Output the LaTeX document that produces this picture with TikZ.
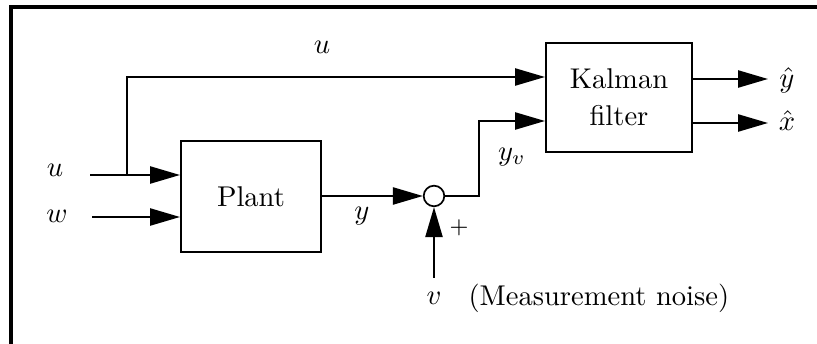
\documentclass[tikz,border=0pt]{standalone}
\usetikzlibrary{arrows.meta}
\begin{document}
\begin{tikzpicture}[
  x=0.35pt, y=-0.35pt,
  block/.style={draw, rectangle, line width=0.7pt, inner sep=0pt},
  sumnode/.style={draw, circle, minimum size=7.2pt, inner sep=0pt, line width=0.6pt},
  sig/.style={-{Triangle[length=10.5pt,width=6pt]}, line width=0.7pt},
  lbl/.style={inner sep=0pt}
]
\useasboundingbox (0,0) rectangle (817,344);

% Frame (open at right and bottom)
\draw[line width=1.2pt] (11,344) -- (11,7) -- (817,7);

% Blocks
\node[block, minimum width=49pt, minimum height=38.85pt] (plant) at (251,196.5) {Plant};
\node[block, minimum width=51.1pt, minimum height=38.15pt, align=center] (kalman) at (619,97.5) {Kalman\\[1pt]filter};
\node[sumnode] (sum) at (434,196) {};

% Input and branch points
\coordinate (uin) at (90,175);
\coordinate (win) at (92,217);
\coordinate (ubr) at (127,175);
\coordinate (utop) at (127,77);
\coordinate (yvjog) at (479,121);
\coordinate (vin) at (434,278);
\coordinate (yhatout) at (768,79);
\coordinate (xhatout) at (768,123);

% Labels
\node[lbl] (ulbl) at (55,170) {$u$};
\node[lbl] (wlbl) at (57,216) {$w$};
\node[lbl] (utoplbl) at (322,47) {$u$};
\node[lbl] (ylbl) at (362,216) {$y$};
\node[lbl] (yvlbl) at (512,157) {$y_v$};
\node[lbl] (yhatlbl) at (787,80) {$\hat{y}$};
\node[lbl] (xhatlbl) at (787,121) {$\hat{x}$};
\node[lbl, font=\footnotesize] (pluslbl) at (459,228) {+};
\node[lbl] (vlbl) at (434,298) {$v$};
\node[lbl, anchor=west] (noiselbl) at (468,298) {(Measurement noise)};

% Plant inputs
\draw[sig] (uin) -- (plant.west |- uin);
\draw[sig] (win) -- (plant.west |- win);

% u also goes to the Kalman filter
\draw[sig] (ubr) -- (utop) -- (kalman.west |- utop);

% Plant output plus measurement noise
\draw[sig] (plant.east |- sum) -- (sum.west);
\draw[sig] (vin) -- (sum.south);
\draw[sig] (sum.east) -| (yvjog) -- (kalman.west |- yvjog);

% Kalman outputs
\draw[sig] (kalman.east |- yhatout) -- (yhatout);
\draw[sig] (kalman.east |- xhatout) -- (xhatout);

\end{tikzpicture}
\end{document}
